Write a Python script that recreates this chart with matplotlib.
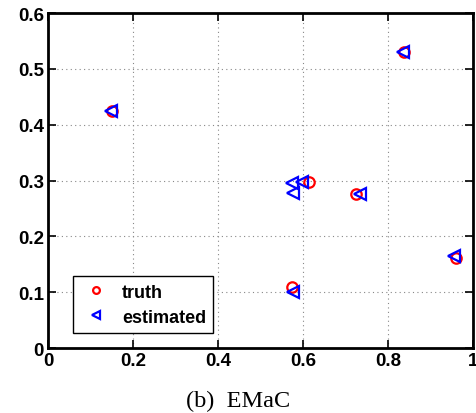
import matplotlib
matplotlib.use('Agg')
import matplotlib.pyplot as plt

# Values
truth_x = [0.150, 0.838, 0.614, 0.725, 0.959, 0.575]
truth_y = [0.424, 0.530, 0.298, 0.276, 0.162, 0.110]

est_x = [0.148, 0.835, 0.597, 0.575, 0.577, 0.733, 0.955, 0.577]
est_y = [0.425, 0.531, 0.298, 0.296, 0.277, 0.276, 0.165, 0.101]

xticks = [0, 0.2, 0.4, 0.6, 0.8, 1]
xticklabels = ['0', '0.2', '0.4', '0.6', '0.8', '1']
yticks = [0, 0.1, 0.2, 0.3, 0.4, 0.5, 0.6]
yticklabels = ['0', '0.1', '0.2', '0.3', '0.4', '0.5', '0.6']

plt.rcParams['font.family'] = ['Liberation Sans', 'DejaVu Sans']

fig = plt.figure(figsize=(4.76, 4.14), dpi=100)
ax = fig.add_axes([0.1008, 0.157, 0.8929, 0.809])

ax.plot(truth_x, truth_y, 'o', color='red', mfc='none', mew=1.6, ms=7.5, label='truth')
ax.plot(est_x, est_y, '<', color='blue', mfc='none', mew=1.6, ms=8, label='estimated')

ax.set_xlim(0, 1)
ax.set_ylim(0, 0.6)
ax.set_xticks(xticks)
ax.set_xticklabels(xticklabels, fontsize=13.5, fontweight='bold')
ax.set_yticks(yticks)
ax.set_yticklabels(yticklabels, fontsize=13.5, fontweight='bold')
ax.tick_params(direction='in', length=6, width=1.2, top=True, right=True, pad=3)
ax.grid(True, linestyle=(0, (1, 3)), color='#888888', linewidth=0.8)
for s in ax.spines.values():
    s.set_linewidth(2)

leg = ax.legend(loc='lower left', bbox_to_anchor=(0.059, 0.045), borderaxespad=0,
                fancybox=False, framealpha=1, edgecolor='black', markerscale=0.65,
                prop={'weight': 'bold', 'size': 13}, handlelength=1.75,
                borderpad=0.4, labelspacing=0.45, handletextpad=0.55)
leg.get_frame().set_linewidth(1)

fig.text(0.5, 0.03, '(b)  EMaC', ha='center', va='center', fontsize=17.5,
         family='Liberation Serif')

fig.savefig('out.png', dpi=100)
